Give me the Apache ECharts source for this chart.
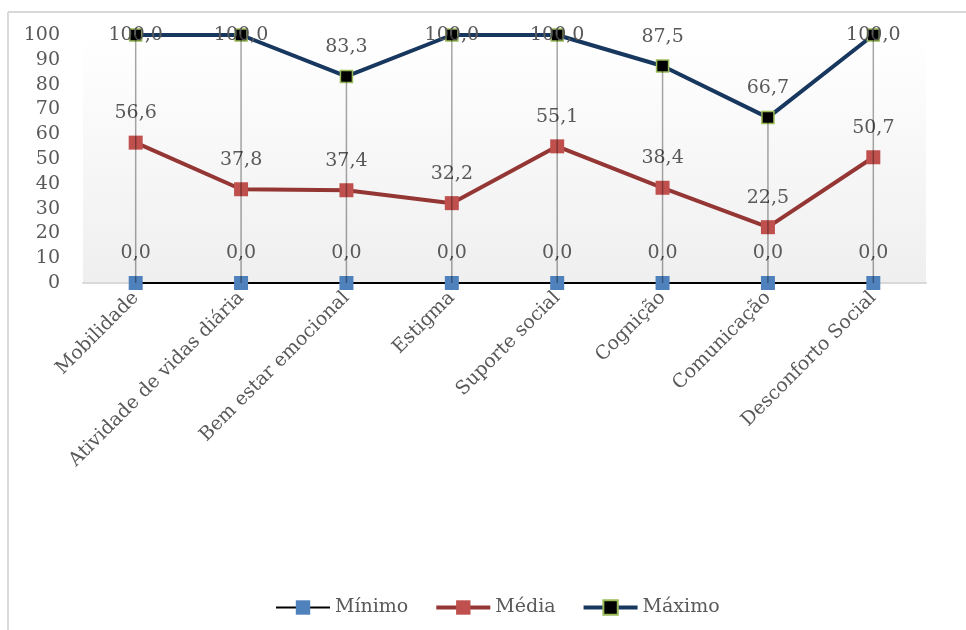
<!DOCTYPE html>
<html>
<head>
<meta charset="utf-8">
<script src="https://cdn.jsdelivr.net/npm/echarts@6/dist/echarts.min.js"></script>
<style>
  html, body { margin: 0; padding: 0; background: #fff; }
  #chart { width: 966px; height: 630px; }
</style>
</head>
<body>
<div id="chart"></div>
<script>
const categories = ['Mobilidade', 'Atividade de vidas diária', 'Bem estar emocional', 'Estigma',
  'Suporte social', 'Cognição', 'Comunicação', 'Desconforto Social']
const minimo = [0, 0, 0, 0, 0, 0, 0, 0]
const media = [56.6, 37.8, 37.4, 32.2, 55.1, 38.4, 22.5, 50.7]
const maximo = [100, 100, 83.3, 100, 100, 87.5, 66.7, 100]
const yTicks = [0, 10, 20, 30, 40, 50, 60, 70, 80, 90, 100]

const FONT = 'DejaVu Serif'
const SIZE = 19
const TEXT = '#595959'

const fmt = (v) => v.toFixed(1).replace('.', ',')

// labels on points that touch the top of the plot sit on the marker (like Excel)
const withLabels = (arr) => arr.map(v => v >= 95 ? { value: v, label: { position: 'inside' } } : v)

const labelCfg = {
  show: true,
  position: 'top',
  distance: 13,
  fontFamily: FONT,
  fontSize: SIZE,
  color: TEXT,
  formatter: (p) => fmt(p.value)
}

const dropData = categories.map((_, i) => [i, Math.min(minimo[i], media[i], maximo[i]), Math.max(minimo[i], media[i], maximo[i])])

const option = {
  animation: false,
  textStyle: { fontFamily: FONT },
  graphic: [
    { type: 'line', shape: { x1: 8, y1: 12, x2: 966, y2: 12 }, style: { stroke: '#d9d9d9', lineWidth: 2 } },
    { type: 'line', shape: { x1: 8, y1: 12, x2: 8, y2: 630 }, style: { stroke: '#d9d9d9', lineWidth: 2 } }
  ],
  grid: {
    left: 83, right: 40, top: 35, bottom: 347,
    show: true,
    borderWidth: 0,
    backgroundColor: {
      type: 'linear', x: 0, y: 0, x2: 0, y2: 1,
      colorStops: [{ offset: 0, color: '#ffffff' }, { offset: 1, color: '#efefef' }]
    }
  },
  legend: {
    left: 270,
    top: 593,
    itemWidth: 54,
    itemHeight: 18,
    itemGap: 26,
    lineStyle: { width: 'inherit' },
    textStyle: { fontFamily: FONT, fontSize: SIZE, color: TEXT },
    data: ['Mínimo', 'Média', 'Máximo']
  },
  xAxis: {
    type: 'category',
    data: categories,
    boundaryGap: true,
    axisLine: { lineStyle: { color: '#d9d9d9', width: 2 } },
    axisTick: { show: false },
    axisLabel: { rotate: 45, margin: 12, fontFamily: FONT, fontSize: SIZE, color: TEXT, interval: 0 }
  },
  yAxis: {
    type: 'value',
    min: yTicks[0],
    max: yTicks[yTicks.length - 1],
    interval: yTicks[1] - yTicks[0],
    axisLine: { show: false },
    axisTick: { show: false },
    splitLine: { show: false },
    axisLabel: { margin: 23, fontFamily: FONT, fontSize: SIZE, color: TEXT }
  },
  series: [
    {
      name: 'Mínimo',
      type: 'line',
      data: withLabels(minimo),
      symbol: 'rect',
      symbolSize: 14,
      itemStyle: { color: '#4f81bd' },
      lineStyle: { color: '#000000', width: 2 },
      label: labelCfg,
      z: 3
    },
    {
      name: 'Média',
      type: 'line',
      data: withLabels(media),
      symbol: 'rect',
      symbolSize: 14,
      itemStyle: { color: '#c0504d' },
      lineStyle: { color: '#943634', width: 4 },
      label: labelCfg,
      z: 3
    },
    {
      name: 'Máximo',
      type: 'line',
      data: withLabels(maximo),
      symbol: 'rect',
      symbolSize: 12,
      itemStyle: { color: '#000000', borderColor: '#9bbb59', borderWidth: 1.5 },
      lineStyle: { color: '#17375e', width: 4 },
      label: labelCfg,
      z: 3
    },
    {
      // high-low drop lines
      type: 'custom',
      data: dropData,
      encode: { x: 0, y: [1, 2] },
      z: 5,
      silent: true,
      renderItem: (params, api) => {
        const a = api.coord([api.value(0), api.value(1)])
        const b = api.coord([api.value(0), api.value(2)])
        return {
          type: 'line',
          shape: { x1: a[0], y1: a[1], x2: b[0], y2: b[1] },
          style: { stroke: 'rgba(0,0,0,0.35)', lineWidth: 1.5 }
        }
      }
    }
  ]
}

const chart = echarts.init(document.getElementById('chart'))
chart.setOption(option)
</script>
</body>
</html>
